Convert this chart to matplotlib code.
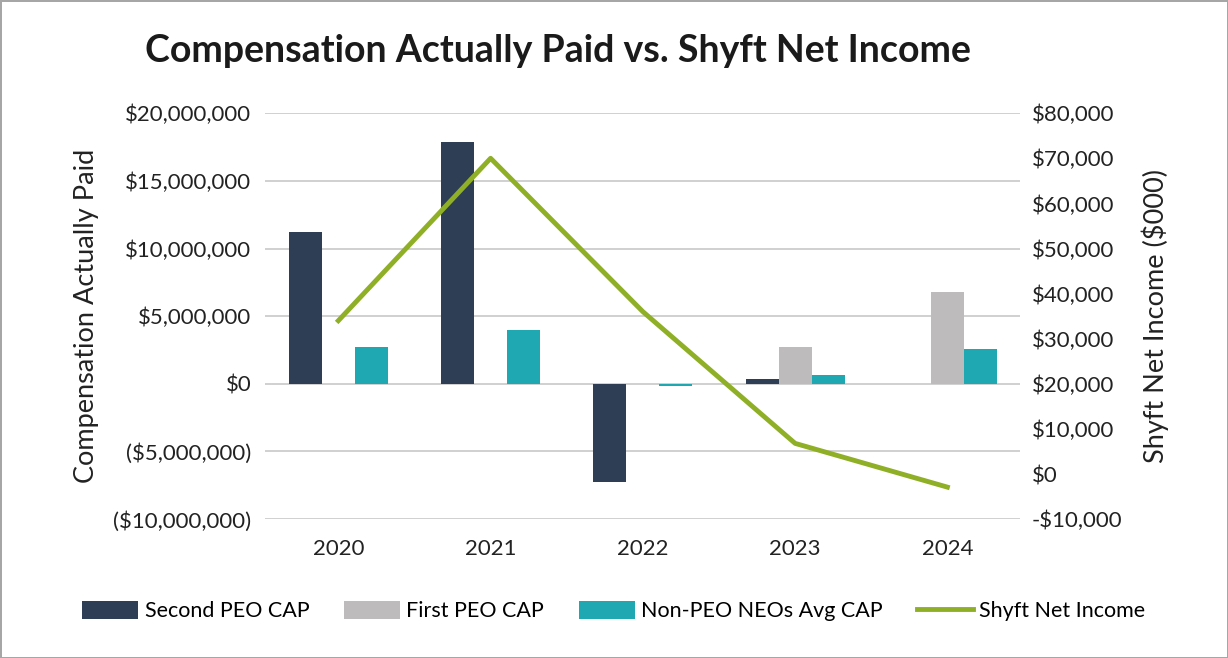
import numpy as np
import matplotlib.pyplot as plt
from matplotlib.ticker import FuncFormatter

years = ["2020", "2021", "2022", "2023", "2024"]
second_peo = [11200000, 17900000, -7250000, 370000, 20000]
first_peo = [0, 0, 0, 2750000, 6750000]
non_peo = [2750000, 3950000, -150000, 680000, 2550000]
net_income = [34000, 70000, 36000, 6800, -2900]

plt.rcParams['font.family'] = ['Lato', 'DejaVu Sans']

fig = plt.figure(figsize=(12.28, 6.58), dpi=100)
fig.patch.set_edgecolor('#A6A6A6')
fig.patch.set_linewidth(2)
ax = fig.add_axes([0.216, 0.211, 0.615, 0.617])

x = np.arange(len(years))
w = 0.217
ax.bar(x - w, second_peo, w, color='#2D3E55', label='Second PEO CAP', zorder=3)
ax.bar(x, first_peo, w, color='#BDBBBB', label='First PEO CAP', zorder=3)
ax.bar(x + w, non_peo, w, color='#1FA7B2', label='Non-PEO NEOs Avg CAP', zorder=3)

ax.set_xlim(-0.48, 4.48)
ax.set_ylim(-10000000, 20000000)
ax.set_yticks(np.arange(-10000000, 20000001, 5000000))


def money(v, pos):
    if v < 0:
        return "(${:,.0f})".format(-v)
    return "${:,.0f}".format(v)


ax.yaxis.set_major_formatter(FuncFormatter(money))
ax.set_xticks(x)
ax.set_xticklabels(years)
ax.grid(axis='y', color='#C8C8C8', linewidth=1.2, zorder=0)
for s in ax.spines.values():
    s.set_visible(False)
ax.tick_params(length=0, labelsize=16, colors='#222222')
ax.tick_params(axis='x', pad=14)
ax.tick_params(axis='y', pad=10)
ax.set_ylabel("Compensation Actually Paid", fontsize=19.5, color='#222222', labelpad=10)

ax2 = ax.twinx()
ax2.plot(x, net_income, color='#8FAF26', linewidth=3.5, label='Shyft Net Income', zorder=4)
ax2.set_ylim(-10000, 80000)
ax2.set_yticks(np.arange(-10000, 80001, 10000))
ax2.yaxis.set_major_formatter(FuncFormatter(lambda v, p: "-${:,.0f}".format(-v) if v < 0 else "${:,.0f}".format(v)))
for s in ax2.spines.values():
    s.set_visible(False)
ax2.tick_params(length=0, labelsize=16, colors='#222222', pad=8)
ax2.set_ylabel("Shyft Net Income ($000)", fontsize=19.5, color='#222222', labelpad=14)

fig.text(0.454, 0.922, "Compensation Actually Paid vs. Shyft Net Income",
         fontsize=27, fontweight='bold', ha='center', va='center', color='#1A1A1A')

h1, l1 = ax.get_legend_handles_labels()
h2, l2 = ax2.get_legend_handles_labels()
fig.legend(h1 + h2, l1 + l2, loc='center', bbox_to_anchor=(0.5, 0.071), ncol=4,
           frameon=False, fontsize=15.5, handlelength=2.6, handleheight=0.9,
           columnspacing=1.6, handletextpad=0.3)

fig.savefig("out.png", dpi=100, edgecolor=fig.get_edgecolor())
